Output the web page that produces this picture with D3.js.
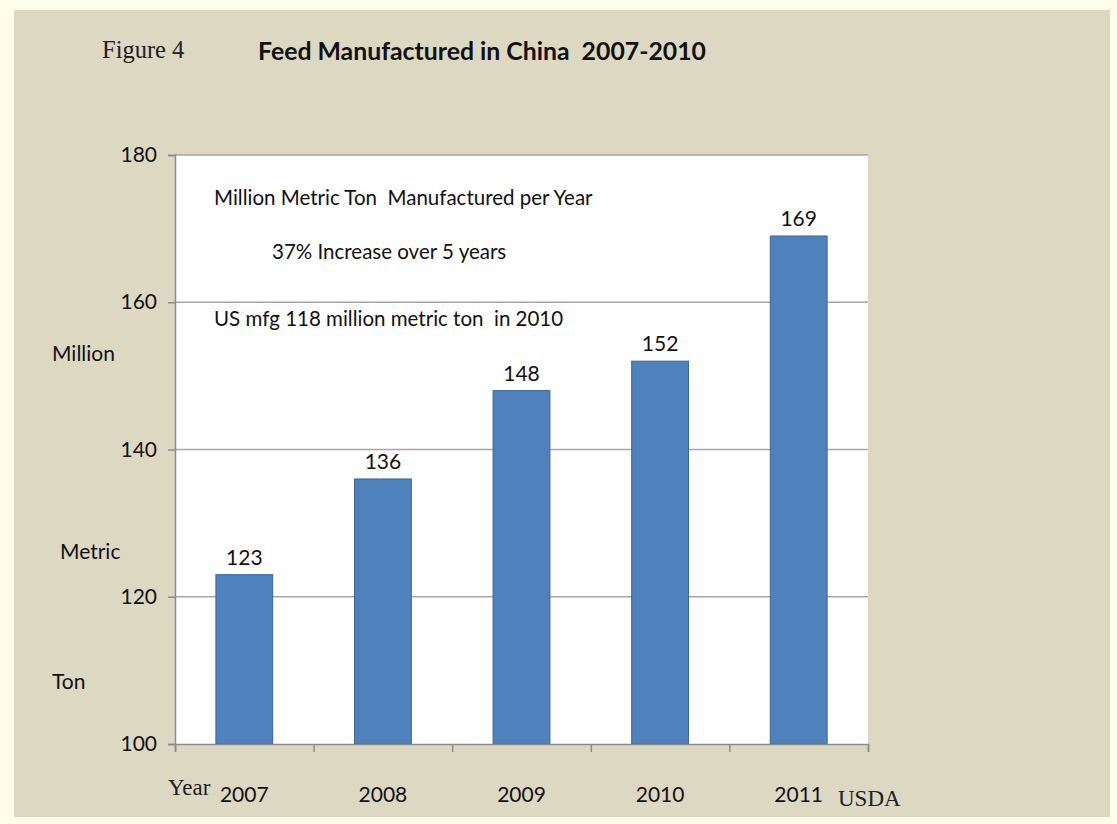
<!DOCTYPE html>
<html>
<head>
<meta charset="utf-8">
<script src="https://cdn.jsdelivr.net/npm/d3@7"></script>
<style>
  html, body { margin: 0; padding: 0; background: #fdfde9; }
  svg { display: block; }
  text { white-space: pre; }
  .sans { font-family: Lato, "Open Sans", "DejaVu Sans", sans-serif; }
  .serif { font-family: "Liberation Serif", "DejaVu Serif", serif; }
</style>
</head>
<body>
<script>
// Feed output in China, million metric tons per year
const years = ["2007", "2008", "2009", "2010", "2011"];
const tonnage = [123, 136, 148, 152, 169];
const yTicks = [100, 120, 140, 160, 180];
const notes = [
  "Million Metric Ton  Manufactured per Year",
  "37% Increase over 5 years",
  "US mfg 118 million metric ton  in 2010"
];
const unitWords = ["Million", "Metric", "Ton"];

const W = 1117, H = 824;
const plot = { left: 175, right: 868, top: 155, bottom: 744 };

const svg = d3.select("body").append("svg").attr("width", W).attr("height", H);

// page panel
svg.append("rect").attr("x", 14).attr("y", 10).attr("width", 1096).attr("height", 807)
  .attr("fill", "#ddd8c2");

// plot area
svg.append("rect").attr("x", plot.left).attr("y", plot.top)
  .attr("width", plot.right - plot.left).attr("height", plot.bottom - plot.top)
  .attr("fill", "#ffffff");

const y = d3.scaleLinear().domain([100, 180]).range([plot.bottom, plot.top]);
const x = d3.scaleBand().domain(years).range([plot.left, plot.right])
  .paddingInner(0.59).paddingOuter(0.295);
const xEdges = d3.scaleLinear().domain([0, years.length]).range([plot.left, plot.right]);

// horizontal gridlines
svg.append("g").selectAll("line").data(yTicks.slice(1)).join("line")
  .attr("x1", plot.left).attr("x2", plot.right)
  .attr("y1", d => y(d)).attr("y2", d => y(d))
  .attr("stroke", "#a6a6a6").attr("stroke-width", 1.5);

// bars
svg.append("g").selectAll("rect").data(tonnage).join("rect")
  .attr("x", (d, i) => x(years[i]))
  .attr("y", d => y(d))
  .attr("width", x.bandwidth())
  .attr("height", d => y(100) - y(d))
  .attr("fill", "#4f81bd")
  .attr("stroke", "#3b6597").attr("stroke-width", 1);

// value labels
svg.append("g").selectAll("text").data(tonnage).join("text")
  .attr("class", "sans")
  .attr("x", (d, i) => x(years[i]) + x.bandwidth() / 2)
  .attr("y", d => y(d) - 10)
  .attr("text-anchor", "middle")
  .attr("font-size", 21).attr("fill", "#111")
  .text(d => d);

// y axis
const yAxis = svg.append("g").attr("transform", `translate(${plot.left},0)`)
  .call(d3.axisLeft(y).tickValues(yTicks).tickSize(7).tickPadding(11));
yAxis.select(".domain").attr("stroke", "#8c8c8c").attr("stroke-width", 1.5);
yAxis.selectAll(".tick line").attr("stroke", "#8c8c8c").attr("stroke-width", 1.5);
yAxis.selectAll(".tick text").attr("class", "sans").attr("font-size", 21).attr("fill", "#111");

// x axis: tick marks at category boundaries
const xAxis = svg.append("g").attr("transform", `translate(0,${plot.bottom})`)
  .call(d3.axisBottom(xEdges).tickValues(d3.range(years.length + 1)).tickSize(8).tickFormat(""));
xAxis.select(".domain").attr("stroke", "#8c8c8c").attr("stroke-width", 1.5);
xAxis.selectAll(".tick line").attr("stroke", "#8c8c8c").attr("stroke-width", 1.5);

// category labels
svg.append("g").selectAll("text").data(years).join("text")
  .attr("class", "sans")
  .attr("x", d => x(d) + x.bandwidth() / 2)
  .attr("y", 802)
  .attr("text-anchor", "middle")
  .attr("font-size", 21).attr("fill", "#111")
  .text(d => d);

svg.append("text").attr("class", "serif").attr("x", 168).attr("y", 795)
  .attr("font-size", 23).attr("fill", "#222").text("Year");
svg.append("text").attr("class", "serif").attr("x", 838).attr("y", 806)
  .attr("font-size", 23).attr("fill", "#222").text("USDA");

// titles
svg.append("text").attr("class", "serif").attr("x", 102).attr("y", 58)
  .attr("font-size", 24.5).attr("fill", "#222").text("Figure 4");
svg.append("text").attr("class", "sans").attr("x", 258).attr("y", 60)
  .attr("font-size", 24.8).attr("font-weight", "bold").attr("fill", "#111")
  .text("Feed Manufactured in China  2007-2010");

// unit words beside the y axis
const unitPos = [[52, 361], [60, 559], [52, 689]];
svg.append("g").selectAll("text").data(unitWords).join("text")
  .attr("class", "sans")
  .attr("x", (d, i) => unitPos[i][0]).attr("y", (d, i) => unitPos[i][1])
  .attr("font-size", 21).attr("fill", "#111")
  .text(d => d);

// notes inside the plot
const notePos = [[214, 205], [272, 259], [214, 326]];
svg.append("g").selectAll("text").data(notes).join("text")
  .attr("class", "sans")
  .attr("x", (d, i) => notePos[i][0]).attr("y", (d, i) => notePos[i][1])
  .attr("font-size", 20.5).attr("fill", "#111")
  .text(d => d);
</script>
</body>
</html>
